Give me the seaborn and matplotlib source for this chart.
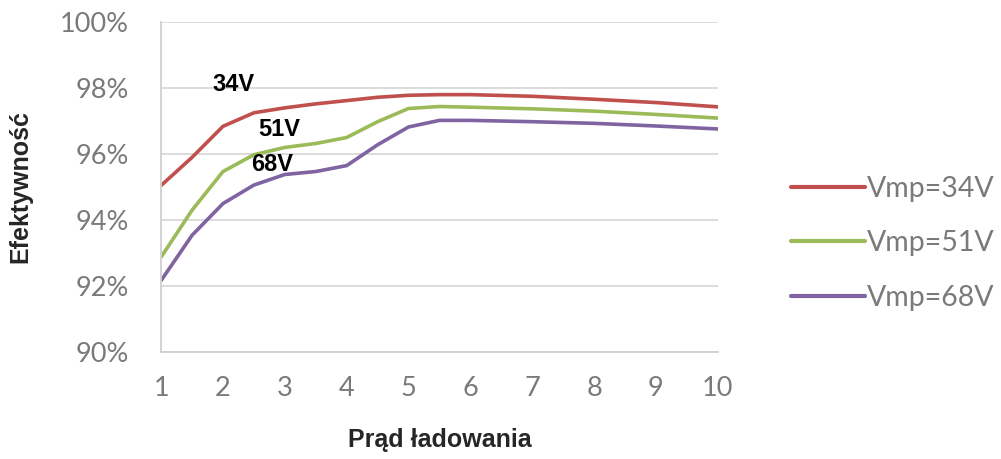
import pandas as pd
import seaborn as sns
import matplotlib.pyplot as plt
from matplotlib.ticker import FuncFormatter

# Values (half steps included to follow the curves)
prad = [1, 1.5, 2, 2.5, 3, 3.5, 4, 4.5, 5, 5.5, 6, 7, 8, 9, 10]
eff_34 = [95.05, 95.9, 96.84, 97.25, 97.4, 97.52, 97.62, 97.72, 97.78, 97.8, 97.8, 97.75, 97.66, 97.56, 97.43]
eff_51 = [92.88, 94.3, 95.47, 95.98, 96.2, 96.32, 96.5, 96.98, 97.38, 97.44, 97.42, 97.37, 97.3, 97.2, 97.09]
eff_68 = [92.17, 93.54, 94.5, 95.06, 95.38, 95.47, 95.65, 96.28, 96.82, 97.02, 97.02, 96.98, 96.93, 96.85, 96.76]
serie = ["Vmp=34V", "Vmp=51V", "Vmp=68V"]
kolory = ["#C0504D", "#9BBB59", "#8064A2"]

df = pd.DataFrame({
    "Prąd": prad * 3,
    "Efektywność": eff_34 + eff_51 + eff_68,
    "Seria": [s for s in serie for _ in prad],
})

sns.set_style("white")
plt.rcParams['font.family'] = ['Lato', 'DejaVu Sans']

fig = plt.figure(figsize=(10.01, 4.59), dpi=100)
ax = fig.add_axes([0.161, 0.233, 0.556, 0.719])

sns.lineplot(data=df, x="Prąd", y="Efektywność", hue="Seria", palette=kolory,
             linewidth=2.6, ax=ax, legend=True, solid_joinstyle='round')

ax.set_xlim(1, 10)
ax.set_ylim(90, 100)
ax.set_xticks(range(1, 11))
ax.set_yticks([90, 92, 94, 96, 98, 100])
ax.yaxis.set_major_formatter(FuncFormatter(lambda v, p: f"{v:.0f}%"))
ax.grid(axis='y', color="#d9d9d9", linewidth=1.3)
ax.set_axisbelow(True)
for s in ["top", "right"]:
    ax.spines[s].set_visible(False)
for s in ["left", "bottom"]:
    ax.spines[s].set_color("#d0d0d0")
    ax.spines[s].set_linewidth(1.3)
ax.tick_params(axis='both', length=0, labelsize=19.5, labelcolor="#7a7a7a")
ax.tick_params(axis='y', pad=23)
ax.tick_params(axis='x', pad=17)

ax.set_xlabel("Prąd ładowania", fontsize=18, fontweight='bold',
              family='Liberation Sans', labelpad=20)
ax.set_ylabel("Efektywność", fontsize=18, fontweight='bold',
              family='Liberation Sans', labelpad=20)

# Labels on the curves
for txt, xx, yy in [("34V", 2.17, 98.1), ("51V", 2.91, 96.73), ("68V", 2.8, 95.67)]:
    ax.text(xx, yy, txt, fontsize=17, fontweight='bold', family='Liberation Sans',
            ha='center', va='center', color='black')

h, l = ax.get_legend_handles_labels()
ax.get_legend().remove()
leg = fig.legend(h, l, loc='center left', bbox_to_anchor=(0.776, 0.47),
                 frameon=False, fontsize=20.5, handlelength=2.6, handletextpad=0.05,
                 labelspacing=1.0, borderpad=0)
for t in leg.get_texts():
    t.set_color("#7a7a7a")
for line in leg.get_lines():
    line.set_linewidth(3)

fig.savefig("out.png", dpi=100)
